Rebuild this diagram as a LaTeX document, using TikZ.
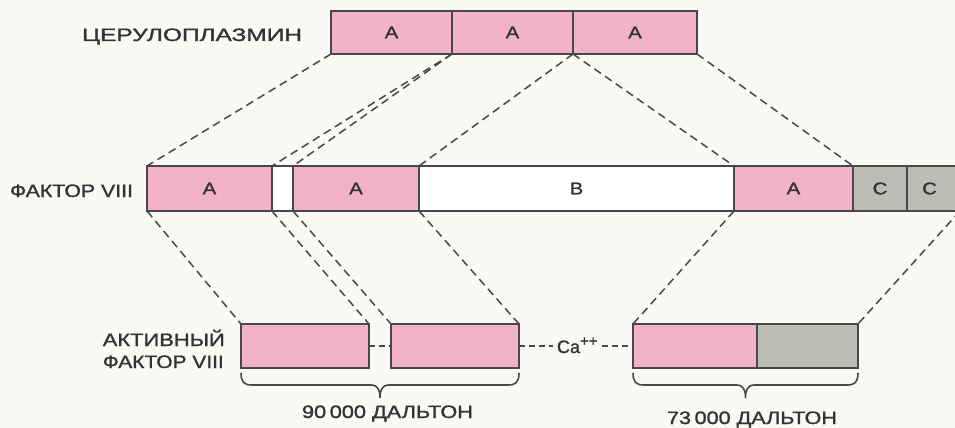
\documentclass[tikz,border=0pt]{standalone}
\usepackage{fontspec}
\setmainfont{Liberation Sans}
\newfontfamily\heavy[FakeBold=1.2]{Liberation Sans}
\newfontfamily\wide[FakeBold=1.3,FakeStretch=1.2]{Liberation Sans}
\usetikzlibrary{calc}
\definecolor{pinkA}{HTML}{F2B3CA}
\definecolor{grayC}{HTML}{BDBCB5}
\definecolor{edge}{HTML}{484848}
\definecolor{ink}{HTML}{333333}
\definecolor{paper}{HTML}{F9F9F5}
\newcommand\fitw[2]{\resizebox{#1}{\height}{#2}}
\newcommand\curly[2]{%
 \draw[brace] ($(#1)+(0,5)$) .. controls +(0,9) and +(-8,0) .. ($(#1)+(11,17)$)
   -- ($(#1)!0.5!(#2)+(-9,17)$) .. controls +(7,0) and +(0,-8) .. ($(#1)!0.5!(#2)+(0,30)$)
   .. controls +(0,-8) and +(-7,0) .. ($(#1)!0.5!(#2)+(9,17)$)
   -- ($(#2)+(-11,17)$) .. controls +(8,0) and +(0,9) .. ($(#2)+(0,5)$);}
\begin{document}
\begin{tikzpicture}[x=1pt,y=-1pt,
  seg/.style={draw=edge, line width=1.4pt, inner sep=0pt, outer sep=0pt, anchor=north west,
    text=ink, font=\wide\fontsize{17}{17}\selectfont},
  pinkseg/.style={seg, fill=pinkA},
  grayseg/.style={seg, fill=grayC},
  whiteseg/.style={seg, fill=white},
  map/.style={draw=edge, line width=1.5pt, dash pattern=on 8pt off 5pt},
  link/.style={draw=edge, line width=1.5pt, dash pattern=on 6pt off 4pt},
  lbl/.style={text=ink, inner sep=0pt, font=\heavy\fontsize{18}{18}\selectfont},
  brace/.style={draw=edge, line width=1.6pt}
]
\fill[paper] (0,0) rectangle (955,428);
\useasboundingbox (0,0) rectangle (955,428);
\clip (0,0) rectangle (955,428);

% ceruloplasmin
\node[pinkseg, minimum width=121pt, minimum height=43pt] (c1) at (331,11) {A};
\node[pinkseg, minimum width=121pt, minimum height=43pt] (c2) at (452,11) {A};
\node[pinkseg, minimum width=124pt, minimum height=43pt] (c3) at (573,11) {A};
\node[lbl, anchor=base] (lcer) at (192,41) {\fitw{220pt}{ЦЕРУЛОПЛАЗМИН}};

% factor VIII
\node[pinkseg, minimum width=125pt, minimum height=45pt] (f1) at (147,166) {A};
\node[whiteseg, minimum width=21pt, minimum height=45pt] (fg) at (272,166) {};
\node[pinkseg, minimum width=126pt, minimum height=45pt] (f2) at (293,166) {A};
\node[whiteseg, minimum width=315pt, minimum height=45pt] (fb) at (419,166) {B};
\node[pinkseg, minimum width=119pt, minimum height=45pt] (f3) at (734,166) {A};
\node[grayseg, minimum width=54pt, minimum height=45pt] (fc1) at (853,166) {C};
\node[grayseg, minimum width=53pt, minimum height=45pt] (fc2) at (907,166) {\hspace*{-8pt}C};
\node[lbl, anchor=base] (lf8) at (71.5,197) {\fitw{123pt}{ФАКТОР VIII}};

% active factor VIII
\node[pinkseg, minimum width=128pt, minimum height=44pt] (b1) at (241,324) {};
\node[pinkseg, minimum width=128pt, minimum height=44pt] (b2) at (391,324) {};
\node[pinkseg, minimum width=124pt, minimum height=44pt] (b3) at (633,324) {};
\node[grayseg, minimum width=101pt, minimum height=44pt] (b4) at (757,324) {};
\node[lbl, anchor=base east] (lact1) at (225,346) {\fitw{122pt}{АКТИВНЫЙ}};
\node[lbl, anchor=base east] (lact2) at (224,368) {\fitw{121pt}{ФАКТОР VIII}};
\node[lbl, anchor=base west, outer sep=4pt] (ca) at (553,353)
  {Ca\raisebox{7pt}{\fontsize{15}{15}\selectfont ++}};

% mapping lines
\draw[map] (c1.south west) -- (f1.north west);
\draw[map] (c1.south east) -- (f1.north east);
\draw[map] (c1.south east) -- (f2.north west);
\draw[map] (c3.south west) -- (f2.north east);
\draw[map] (c3.south west) -- (f3.north west);
\draw[map] (c3.south east) -- (f3.north east);

\draw[map] (f1.south west) -- (b1.north west);
\draw[map] (f1.south east) -- (b1.north east);
\draw[map] (f2.south west) -- (b2.north west);
\draw[map] (f2.south east) -- (b2.north east);
\draw[map] (f3.south west) -- (b3.north west);
\draw[map] (fc2.south east) -- (b4.north east);

% links
\draw[link] (b1.east) -- (b2.west);
\draw[link] (b2.east) -- (b2.east -| ca.west);
\draw[link] (b3.west -| ca.east) -- (b3.west);

% braces
\curly{b1.south west}{b2.south east}
\curly{b3.south west}{b4.south east}
\node[lbl, anchor=base] (d90) at (387.5,418) {\fitw{171pt}{90\,000 ДАЛЬТОН}};
\node[lbl, anchor=base] (d73) at (752,424) {\fitw{170pt}{73\,000 ДАЛЬТОН}};
\end{tikzpicture}
\end{document}
